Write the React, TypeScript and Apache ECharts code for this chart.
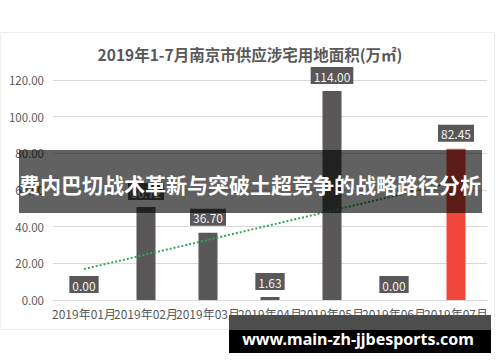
import React, { useEffect, useRef } from "react";
import * as echarts from "echarts";

const categories = ["2019年01月", "2019年02月", "2019年03月", "2019年04月", "2019年05月", "2019年06月", "2019年07月"];
const values = [0, 50.72, 36.7, 1.63, 114.0, 0, 82.45];
const highlightIndex = 6;
const yTicks = { min: 0, max: 120, interval: 20 };
const titleText = "2019年1-7月南京市供应涉宅用地面积(万㎡)";
const bannerText = "费内巴切战术革新与突破土超竞争的战略路径分析";
const watermarkText = "www.main-zh-jjbesports.com";

function trend(vals: number[]): number[] {
  const n = vals.length;
  const xs = vals.map((_, i) => i + 1);
  const mx = xs.reduce((a, b) => a + b, 0) / n;
  const my = vals.reduce((a, b) => a + b, 0) / n;
  let num = 0, den = 0;
  for (let i = 0; i < n; i++) {
    num += (xs[i] - mx) * (vals[i] - my);
    den += (xs[i] - mx) * (xs[i] - mx);
  }
  const slope = num / den;
  return xs.map((x) => my + slope * (x - mx));
}

const FONT = "'Noto Sans CJK SC', 'Noto Sans', sans-serif";

export default function App() {
  const ref = useRef<HTMLDivElement>(null);
  useEffect(() => {
    if (!ref.current) return;
    const chart = echarts.init(ref.current, undefined, { renderer: "svg" });
    chart.setOption({
      animation: false,
      backgroundColor: "#ffffff",
      title: {
        text: titleText,
        left: "center",
        top: 41,
        textStyle: { fontFamily: FONT, fontSize: 15.5, fontWeight: "bold", color: "#595959" },
      },
      grid: { left: 53, right: 13, top: 80, bottom: 62, containLabel: false },
      xAxis: {
        type: "category",
        data: categories,
        axisTick: { show: false },
        axisLine: { lineStyle: { color: "#d9d9d9", width: 1 } },
        axisLabel: { interval: 0, color: "#595959", fontSize: 12, fontFamily: FONT, margin: 7 },
      },
      yAxis: {
        type: "value",
        min: yTicks.min,
        max: yTicks.max,
        interval: yTicks.interval,
        axisLine: { show: false },
        axisTick: { show: false },
        splitLine: { lineStyle: { color: "#d9d9d9", width: 1 } },
        axisLabel: {
          color: "#595959",
          fontSize: 11.5,
          fontFamily: FONT,
          margin: 9,
          formatter: (v: number) => v.toFixed(2),
        },
      },
      series: [
        {
          type: "bar",
          data: values.map((v, i) => ({
            value: v,
            itemStyle: { color: i === highlightIndex ? "#f0473a" : "#595757" },
          })),
          barWidth: 19,
          z: 2,
          label: {
            show: true,
            position: "top",
            distance: 7,
            formatter: (p: any) => Number(p.value).toFixed(2),
            color: "#f2f2f2",
            fontSize: 12,
            fontFamily: FONT,
            backgroundColor: "#595757",
            padding: [3, 3, 2, 3],
          },
        },
        {
          type: "line",
          data: trend(values),
          symbol: "none",
          z: 3,
          lineStyle: { color: "#2ea85a", width: 2, type: [2, 2] },
          silent: true,
        },
      ],
      graphic: [
        {
          type: "rect",
          shape: { x: 0.5, y: 32.5, width: 494, height: 297 },
          style: { fill: "none", stroke: "#eeeeee", lineWidth: 1 },
          z: -1,
          silent: true,
        },
        {
          type: "rect",
          shape: { x: 19, y: 150, width: 463, height: 63 },
          style: { fill: "rgba(0,0,0,0.62)" },
          z: 100,
        },
        {
          type: "text",
          x: 250,
          y: 184,
          style: {
            text: bannerText,
            fill: "#ffffff",
            fontSize: 21,
            fontWeight: "bold",
            fontFamily: FONT,
            align: "center",
            verticalAlign: "middle",
          },
          z: 101,
        },
        {
          type: "rect",
          shape: { x: 229, y: 315, width: 262, height: 15 },
          style: { fill: "#4d4d4d" },
          z: 100,
        },
        {
          type: "rect",
          shape: { x: 229, y: 330, width: 262, height: 23 },
          style: { fill: "#000000" },
          z: 100,
        },
        {
          type: "text",
          x: 358,
          y: 339,
          style: {
            text: watermarkText,
            fill: "#ffffff",
            fontSize: 16,
            fontWeight: "bold",
            fontFamily: "'Noto Sans', sans-serif",
            align: "center",
            verticalAlign: "middle",
          },
          z: 101,
        },
      ],
    });
    return () => chart.dispose();
  }, []);
  return (
    <div
      ref={ref}
      style={{ position: "fixed", left: 0, top: 0, width: 500, height: 362 }}
    />
  );
}
